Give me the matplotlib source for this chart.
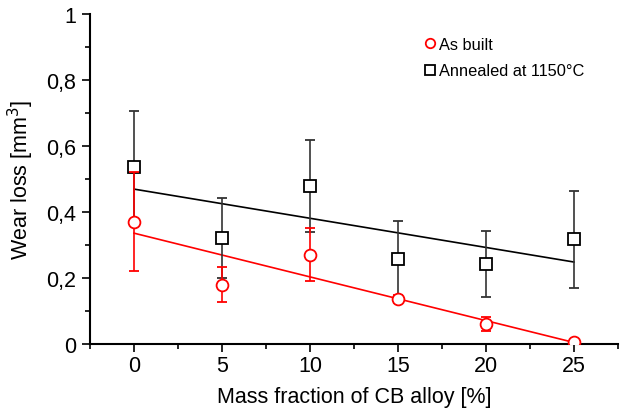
import numpy as np
import matplotlib.pyplot as plt
from matplotlib.ticker import FuncFormatter, MultipleLocator

plt.rcParams['font.family'] = ['Liberation Sans', 'DejaVu Sans']

# mass fraction of CB alloy [%]
frac = np.array([0, 5, 10, 15, 20, 25])

# as built
built = np.array([0.370, 0.180, 0.270, 0.136, 0.060, 0.005])
built_err = np.array([0.150, 0.053, 0.080, 0.013, 0.022, 0.0])

# annealed at 1150 C
ann = np.array([0.536, 0.321, 0.478, 0.258, 0.242, 0.318])
ann_err = np.array([0.170, 0.120, 0.140, 0.115, 0.100, 0.147])

fig = plt.figure(figsize=(6.23, 4.14), dpi=100)
ax = fig.add_axes([0.1445, 0.1667, 0.8475, 0.7971])

# linear fits
xs = np.array([frac[0], frac[-1]])
p1 = np.polyfit(frac, built, 1)
p2 = np.polyfit(frac, ann, 1)
ax.plot(xs, np.polyval(p1, xs), color='red', lw=1.2, zorder=2)
ax.plot(xs, np.polyval(p2, xs), color='black', lw=1.2, zorder=2)

ax.errorbar(frac, ann, yerr=ann_err, fmt='s', color='black', ecolor='#333333',
            mfc='white', mec='black', ms=8.5, mew=1.3, capsize=3.5, elinewidth=1.2,
            capthick=1.2, label='Annealed at 1150°C', zorder=3)
ax.errorbar(frac, built, yerr=built_err, fmt='o', color='red', ecolor='red',
            mfc='white', mec='red', ms=8.5, mew=1.3, capsize=3.5, elinewidth=1.2,
            capthick=1.2, label='As built', zorder=4)

ax.set_xlim(-2.5, 27.5)
ax.set_ylim(0, 1)
ax.xaxis.set_major_locator(MultipleLocator(5))
ax.xaxis.set_minor_locator(MultipleLocator(2.5))
ax.yaxis.set_major_locator(MultipleLocator(0.2))
ax.yaxis.set_minor_locator(MultipleLocator(0.1))
ax.yaxis.set_major_formatter(FuncFormatter(lambda v, p: ('%g' % round(v, 2)).replace('.', ',')))

for s in ['top', 'right']:
    ax.spines[s].set_visible(False)
for s in ['left', 'bottom']:
    ax.spines[s].set_linewidth(1.5)
ax.tick_params(which='major', direction='out', length=6, width=1.2, labelsize=15.5, pad=4)
ax.tick_params(axis='x', which='major', pad=2)
ax.tick_params(which='minor', direction='out', length=3.5, width=1.2)

ax.set_xlabel('Mass fraction of CB alloy [%]', fontsize=15.5, labelpad=7)
ax.set_ylabel('Wear loss [mm$^3$]', fontsize=15.5, labelpad=7)

h, l = ax.get_legend_handles_labels()
h = [x[0] for x in h]
ax.legend(h[::-1], l[::-1], loc='upper right', frameon=False, fontsize=11.8,
          handlelength=0.6, handletextpad=0.25, bbox_to_anchor=(0.965, 0.975),
          markerscale=0.8, labelspacing=0.7)

fig.savefig('out.png', dpi=100)
